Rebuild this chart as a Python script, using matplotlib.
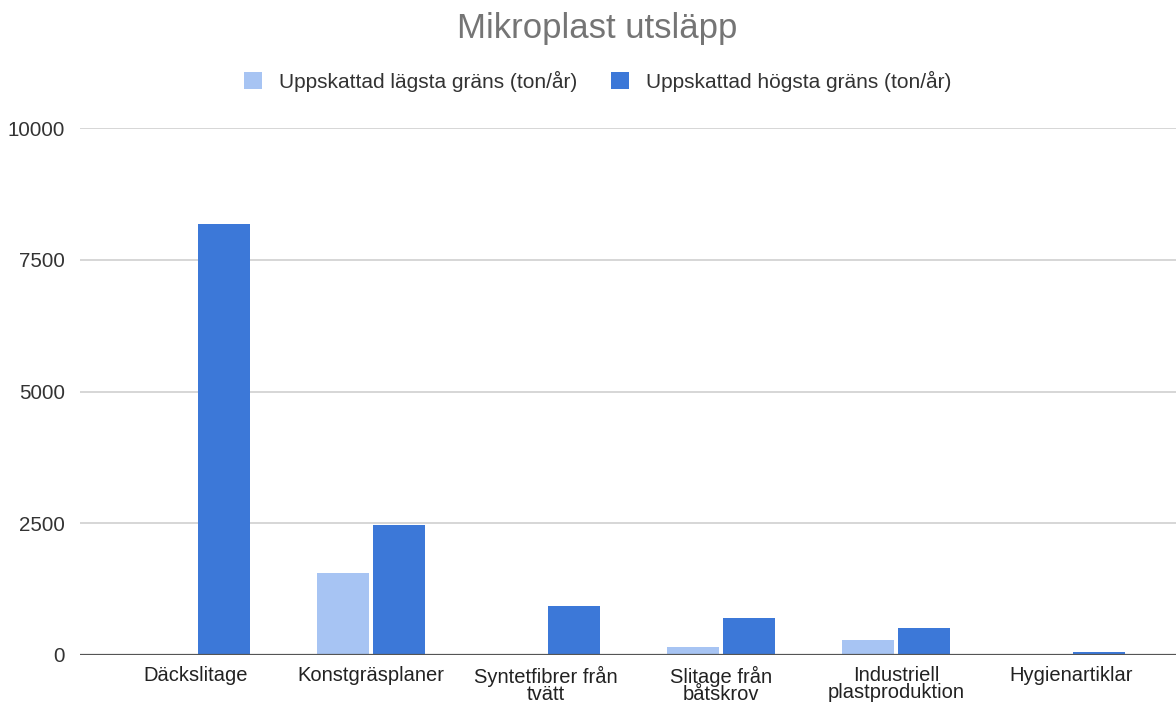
import numpy as np
import matplotlib.pyplot as plt

#=== Data ===
categories = ["Däckslitage", "Konstgräsplaner", "Syntetfibrer från\ntvätt",
              "Slitage från\nbåtskrov", "Industriell\nplastproduktion", "Hygienartiklar"]
low_vals = [0, 1560, 0, 150, 285, 0]
high_vals = [8180, 2470, 930, 700, 510, 60]
series_names = ["Uppskattad lägsta gräns (ton/år)", "Uppskattad högsta gräns (ton/år)"]
yticks = [0, 2500, 5000, 7500, 10000]

#=== Style ===
LIGHT = "#a7c4f3"
DARK = "#3c78d8"
plt.rcParams['font.family'] = ['Liberation Sans', 'DejaVu Sans']

fig = plt.figure(figsize=(11.76, 7.06), dpi=100, facecolor='white')
ax = fig.add_axes([80/1176, 51/706, 1 - 80/1176, 527/706])

x = np.arange(len(categories))
w = 0.297
off = 0.16
ax.bar(x - off, low_vals, width=w, color=LIGHT, label=series_names[0], zorder=3)
ax.bar(x + off, high_vals, width=w, color=DARK, label=series_names[1], zorder=3)

ax.set_ylim(0, 10000)
ax.set_xlim(-0.5 - 28.5/175, -0.5 + (1176 - 108.5)/175)
ax.set_yticks(yticks)
ax.set_yticklabels([str(t) for t in yticks], fontsize=14.8, color='#333333')
ax.set_xticks(x)
ax.set_xticklabels(categories, fontsize=14.5, color='#222222', linespacing=0.88)
ax.tick_params(axis='both', length=0)
ax.tick_params(axis='y', pad=11)
ax.tick_params(axis='x', pad=8)

ax.grid(axis='y', color='#d0d0d0', lw=1.2, zorder=0)
ax.axhline(0, color='#555555', lw=1.6, zorder=4)
for s in ax.spines.values():
    s.set_visible(False)

fig.text(0.508, 0.960, "Mikroplast utsläpp", ha='center', va='center',
         fontsize=25, color='#757575')
fig.legend(loc='center', bbox_to_anchor=(0.508, 0.885), ncol=2, frameon=False,
           fontsize=15, handlelength=0.9, handleheight=0.9, handletextpad=0.8,
           columnspacing=1.6, labelcolor='#333333')

fig.savefig("out.png", dpi=100, facecolor='white')
